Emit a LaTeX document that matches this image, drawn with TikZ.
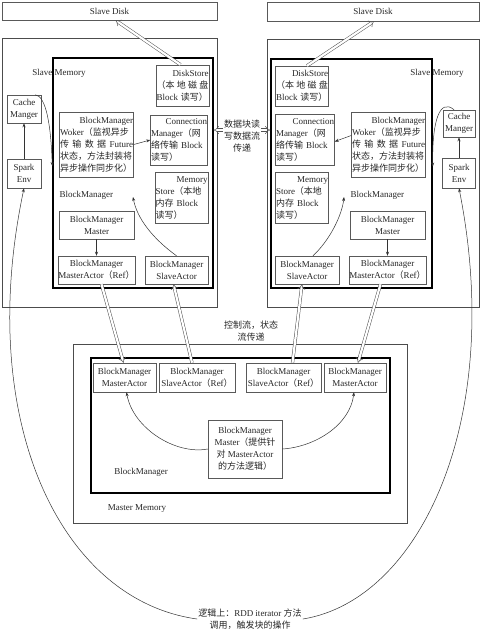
\documentclass[tikz,border=0pt]{standalone}
\usepackage{fontspec}
\setmainfont{Liberation Serif}
\newfontfamily\cjk{Noto Sans CJK SC}
\newcommand{\zh}[1]{{\cjk #1}}
\usepackage{tikz}
\usetikzlibrary{arrows.meta,calc}

\begin{document}
\begin{tikzpicture}[x=1pt,y=-1pt,>={Stealth[length=4pt,width=3pt]},
	every node/.style={font=\fontsize{9}{12}\selectfont, text=black!85},
	box/.style={draw=gray!70!black, line width=0.5pt, inner xsep=0.5pt, inner ysep=1pt, align=center},
	para/.style={box, align=left},
	memory/.style={draw=gray!60!black, line width=0.5pt},
	thickbox/.style={draw=black, line width=1.5pt},
	dbl/.style={draw=gray!65!black, line width=0.5pt, double=white, double distance=2.2pt, -{Implies}},
	link/.style={->, draw=black!80, line width=0.5pt}]
	
	\useasboundingbox (0,0) rectangle (484,630);
	
	% disks
	\node[box, minimum width=215, minimum height=18] (diskL) at (109.5,11) {Slave Disk};
	\node[box, minimum width=212, minimum height=19] (diskR) at (373,11.5) {Slave Disk};
	
	% slave memory
	\node[memory, minimum width=215, minimum height=269] (memL) at (109.5,172.5) {};
	\node[memory, minimum width=212, minimum height=268] (memR) at (373,173) {};
	\node (memLtxt) at (59,73) {Slave Memory};
	\node (memRtxt) at (437,73) {Slave Memory};
	\node[thickbox, minimum width=160, minimum height=230] (bmL) at (133,173) {};
	\node[thickbox, minimum width=161, minimum height=229] (bmR) at (351.5,173.5) {};
	
	% left slave
	\node[para, text width=52, minimum height=41] (dsL) at (182.5,85.5) {\hspace*{\fill}DiskStore\\\zh{（本\hfill 地\hfill 磁\hfill 盘}\\Block~\zh{读写）}};
	\node[para, text width=56, minimum height=50] (cmL) at (179,140) {\hspace*{\fill}Connection\\Manager\zh{（网}\\\zh{络传输}~Block\\\zh{读写）}};
	\node[para, text width=52, minimum height=51] (msL) at (181.5,197.5) {\hspace*{\fill}Memory\\Store\zh{（本地}\\\zh{内存}~Block\\\zh{读写）}};
	\node[para, text width=73, minimum height=65] (wkL) at (96.5,144.5) {\hspace*{\fill}BlockManager\\Woker\zh{（监视异步}\\\zh{传\hfill 输\hfill 数\hfill 据}\hfill Future\\\zh{状态，方法封装将}\\\zh{异步操作同步化）}};
	\node[anchor=west] (bmtxtL) at (56,195) {BlockManager};
	\node[box, minimum width=75, minimum height=28] (bmmL) at (96.5,225) {BlockManager\\Master};
	\node[box, minimum width=75, minimum height=28] (maL) at (96.5,270) {BlockManager\\MasterActor\zh{（}Ref\zh{）}};
	\node[box, minimum width=63, minimum height=28] (saL) at (176.5,270) {BlockManager\\SlaveActor};
	\node[box, minimum width=34, minimum height=28] (cacheL) at (24,109) {Cache\\Manger};
	\node[box, minimum width=34, minimum height=29] (sparkL) at (24,173.5) {Spark\\Env};
	
	% right slave
	\node[para, text width=52, minimum height=40] (dsR) at (302,86) {\hspace*{\fill}DiskStore\\\zh{（本\hfill 地\hfill 磁\hfill 盘}\\Block~\zh{读写）}};
	\node[para, text width=58, minimum height=51] (cmR) at (305,139.5) {\hspace*{\fill}Connection\\Manager\zh{（网}\\\zh{络传输}~Block\\\zh{读写）}};
	\node[para, text width=52, minimum height=51] (msR) at (302,197.5) {\hspace*{\fill}Memory\\Store\zh{（本地}\\\zh{内存}~Block\\\zh{读写）}};
	\node[para, text width=73, minimum height=65] (wkR) at (388.5,144.5) {\hspace*{\fill}BlockManager\\Woker\zh{（监视异步}\\\zh{传\hfill 输\hfill 数\hfill 据}\hfill Future\\\zh{状态，方法封装将}\\\zh{异步操作同步化）}};
	\node[anchor=west] (bmtxtR) at (347,195) {BlockManager};
	\node[box, minimum width=75, minimum height=28] (bmmR) at (387.5,225) {BlockManager\\Master};
	\node[box, minimum width=75, minimum height=28] (maR) at (387.5,270) {BlockManager\\MasterActor\zh{（}Ref\zh{）}};
	\node[box, minimum width=64, minimum height=28] (saR) at (307,270) {BlockManager\\SlaveActor};
	\node[box, minimum width=32, minimum height=27] (cacheR) at (459,123.5) {Cache\\Manger};
	\node[box, minimum width=33, minimum height=30] (sparkR) at (459,173) {Spark\\Env};
	
	% master
	\node[memory, minimum width=334, minimum height=179] (mmem) at (240,433.5) {};
	\node (mmemtxt) at (137,509) {Master Memory};
	\node[thickbox, minimum width=299, minimum height=135] (mbm) at (240.5,425.5) {};
	\node[box, minimum width=63, minimum height=29] (mmaL) at (124.5,377.5) {BlockManager\\MasterActor};
	\node[box, minimum width=76, minimum height=29] (msaL) at (197,377.5) {BlockManager\\SlaveActor\zh{（}Ref\zh{）}};
	\node[box, minimum width=75, minimum height=29] (msaR) at (283.5,377.5) {BlockManager\\SlaveActor\zh{（}Ref\zh{）}};
	\node[box, minimum width=62, minimum height=29] (mmaR) at (355,377.5) {BlockManager\\MasterActor};
	\node[box, minimum width=74, minimum height=58] (mbmm) at (245,449) {BlockManager\\Master\zh{（提供针}\\\zh{对}~MasterActor\\\zh{的方法逻辑）}};
	\node (mbmtxt) at (141,472) {BlockManager};
	
	% labels
	\node[fill=white, inner sep=1pt, align=center] (flow) at (242,136) {\zh{数据块读}\\\zh{写数据流}\\\zh{传递}};
	\node[align=center] (ctrl) at (251,331) {\zh{控制流，状态}\\\zh{流传递}};
	\node[align=center, inner sep=1pt] (note) at (250,619) {\zh{逻辑上：}RDD iterator \zh{方法}\\\zh{调用，触发块的操作}};
	
	% hollow arrows
	\draw[dbl] ($(dsL.north)+(-2,0)$) -- ($(diskL.south)+(6,0)$);
	\draw[dbl] ($(dsR.north)+(5,0)$) -- ($(diskR.south)+(1,0)$);
	\draw[dbl] ($(maL.south)+(5,0)$) -- ($(mmaL.north)+(-1,0)$);
	\draw[dbl] ($(msaL.north)+(-5,0)$) -- ($(saL.south)+(-3,0)$);
	\draw[dbl] ($(msaR.north)+(9,0)$) -- ($(saR.south)+(-5,0)$);
	\draw[dbl] ($(maR.south)+(-7,0)$) -- ($(mmaR.north)+(3,0)$);
	\coordinate (flowL) at ($(flow.west)+(0,-6)$);
	\coordinate (flowR) at ($(flow.east)+(0,-6)$);
	\draw[dbl] (flowL) -- (flowL -| bmL.east);
	\draw[dbl] (flowR) -- (flowR -| bmR.west);
	
	% plain arrows
	\draw[link] (sparkL) -- (cacheL);
	\draw[link] (sparkR) -- (cacheR);
	\draw[link] (wkL.east) -- (cmL.west);
	\draw[link] ($(wkR.west)+(0,-9)$) -- ($(cmR.east)+(0,2)$);
	\draw[link] (bmmL) -- (maL);
	\draw[link] (bmmR) -- (maR);
	\coordinate (saLtip) at (133,197);
	\coordinate (saRtip) at (344,197);
	\draw[link] (saL.north) .. controls (152,238) and (137,218) .. (saLtip);
	\draw[link] ($(saR.north)+(6,0)$) .. controls (330,240) and (342,215) .. (saRtip);
	\draw[link] ($(cacheL.north east)+(-6,0)$) .. controls (46,96) and (51,125) .. ($(bmL.west)+(0,-7)$);
	\draw[link] ($(cacheR.north)+(-5,0)$) .. controls (440,98) and (432,120) .. ($(bmR.east)+(0,-7)$);
	\draw[link] (mbmm.west) .. controls (175,455) and (133,428) .. ($(mmaL.south)+(2,0)$);
	\draw[link] (mbmm.east) .. controls (315,447) and (350,425) .. ($(mmaR.south)+(-1,0)$);
	\draw[link] (note.west) .. controls (60,600) and (-25,420) .. (sparkL.south);
	\draw[link] (note.east) .. controls (420,600) and (505,420) .. (sparkR.south);
\end{tikzpicture}
\end{document}
